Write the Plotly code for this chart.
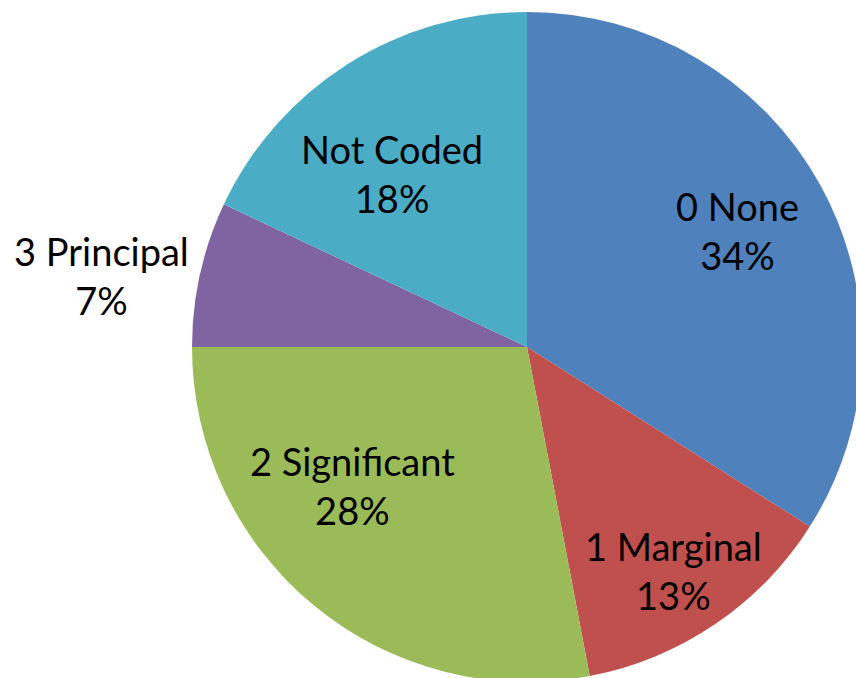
import math
import plotly.graph_objects as go

categories = ["0 None", "1 Marginal", "2 Significant", "3 Principal", "Not Coded"]
values = [34, 13, 28, 7, 18]
colors = ["#4F81BD", "#C0504D", "#9BBB59", "#8064A2", "#4BACC6"]

# label placement style: radial fraction of pie radius, and angle offset (deg)
label_r = [0.718, 0.796, 0.665, 1.287, 0.657]
label_da = [-0.3, 1.0, 12.1, -3.0, -5.4]

# figure slightly larger than the window; the window crops the pie edge like the original
W, H = 870, 690
PCX, PCY, PR = 527, 347, 335
dom_x = [(PCX - PR) / W, (PCX + PR) / W]
dom_y = [1 - (PCY + PR) / H, 1 - (PCY - PR) / H]

fig = go.Figure(go.Pie(
    labels=categories, values=values, sort=False, direction="clockwise",
    rotation=0, marker=dict(colors=colors, line=dict(width=0)),
    textinfo="none", hoverinfo="label+percent", showlegend=False,
    domain=dict(x=dom_x, y=dom_y),
))

wpx = (dom_x[1] - dom_x[0]) * W
hpx = (dom_y[1] - dom_y[0]) * H
cx = (dom_x[0] + dom_x[1]) / 2 * W
cy = (1 - (dom_y[0] + dom_y[1]) / 2) * H
R = min(wpx, hpx) / 2

total = sum(values)
cum = 0
for cat, v, rf, da in zip(categories, values, label_r, label_da):
    mid = (cum + v / 2) / total * 360 + da
    cum += v
    a = math.radians(mid)
    px = cx + rf * R * math.sin(a)
    py = cy - rf * R * math.cos(a)
    pct = round(v / total * 100)
    fig.add_annotation(
        x=px / W, y=1 - py / H, xref="paper", yref="paper",
        text=f"{cat}<br>{pct}%", showarrow=False,
        font=dict(family="Lato, Carlito, sans-serif", size=38, color="black"),
        xanchor="center", yanchor="middle", align="center",
    )

fig.update_layout(
    width=W, height=H, margin=dict(l=0, r=0, t=0, b=0),
    paper_bgcolor="white", plot_bgcolor="white",
)
fig.write_html(
    "out.html",
    config={"displayModeBar": False},
    post_script=("document.body.style.margin='0';"
                 "document.documentElement.style.overflow='hidden';"
                 "document.body.style.overflow='hidden';"),
)
